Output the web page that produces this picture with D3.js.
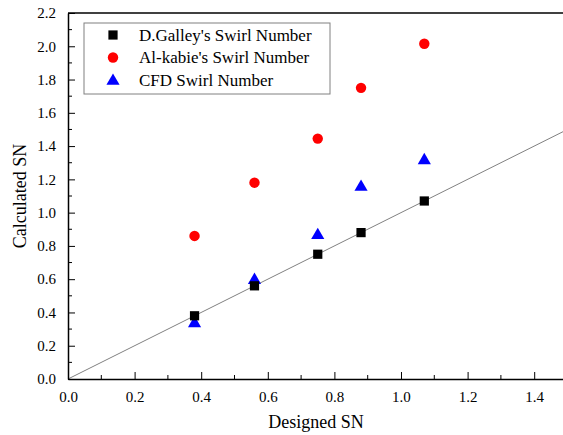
<!DOCTYPE html>
<html>
<head>
<meta charset="utf-8">
<script src="https://cdn.jsdelivr.net/npm/d3@7"></script>
<style>
  body { margin: 0; background: #fff; }
</style>
</head>
<body>
<div id="chart"></div>
<script>
// data
var designed = [0.38, 0.56, 0.75, 0.88, 1.07];
var galley = [0.38, 0.56, 0.75, 0.88, 1.07];
var alkabie = [0.86, 1.18, 1.445, 1.75, 2.015];
var cfd = [0.34, 0.60, 0.87, 1.16, 1.32];
var seriesNames = ["D.Galley's Swirl Number", "Al-kabie's Swirl Number", "CFD Swirl Number"];
var xTicks = [0.0, 0.2, 0.4, 0.6, 0.8, 1.0, 1.2, 1.4];
var yTicks = [0.0, 0.2, 0.4, 0.6, 0.8, 1.0, 1.2, 1.4, 1.6, 1.8, 2.0, 2.2];

var svgWidth = 563, svgHeight = 435;
var margin = { top: 13, right: 0, bottom: 56, left: 68 };
var chart_width = svgWidth - margin.left - margin.right;
var chart_height = svgHeight - margin.top - margin.bottom;

var svg = d3.select("#chart").append("svg")
    .attr("width", svgWidth)
    .attr("height", svgHeight);

var chartGroup = svg.append("g")
    .attr("transform", `translate(${margin.left}, ${margin.top})`);

var xScale = d3.scaleLinear().domain([0, 1.4865]).range([0, chart_width]);
var yScale = d3.scaleLinear().domain([0, 2.2]).range([chart_height, 0]);

// clip for marks
svg.append("clipPath").attr("id", "clip")
    .append("rect").attr("width", chart_width).attr("height", chart_height);

// y = x reference line
chartGroup.append("line")
    .attr("clip-path", "url(#clip)")
    .attr("x1", xScale(0)).attr("y1", yScale(0))
    .attr("x2", xScale(1.6)).attr("y2", yScale(1.6))
    .attr("stroke", "#808080").attr("stroke-width", 1);

// axes
var minorX = d3.range(0.1, 1.5, 0.2);
var minorY = d3.range(0.1, 2.2, 0.2);

var bottomAxis = d3.axisBottom(xScale).tickValues(xTicks).tickFormat(d3.format(".1f"))
    .tickSizeInner(-7).tickSizeOuter(0).tickPadding(12);
var xg = chartGroup.append("g")
    .attr("transform", `translate(0, ${chart_height})`)
    .call(bottomAxis);
xg.selectAll(".tick").filter(d => xScale(d) > chart_width - 1).select("line").remove();
xg.append("g").selectAll("line").data(minorX).enter().append("line")
    .attr("x1", d => xScale(d)).attr("x2", d => xScale(d))
    .attr("y1", 0).attr("y2", -4).attr("stroke", "#000");

var leftAxis = d3.axisLeft(yScale).tickValues(yTicks).tickFormat(d3.format(".1f"))
    .tickSizeInner(-7).tickSizeOuter(0).tickPadding(12);
var yg = chartGroup.append("g").call(leftAxis);
yg.append("g").selectAll("line").data(minorY).enter().append("line")
    .attr("y1", d => yScale(d)).attr("y2", d => yScale(d))
    .attr("x1", 0).attr("x2", 4).attr("stroke", "#000");

[xg, yg].forEach(function(g) {
    g.attr("font-family", null).attr("font-size", null);
    g.select(".domain").attr("stroke-width", 1.5);
    g.selectAll(".tick text").attr("fill", "#000").attr("font-size", 15);
});
// top frame
chartGroup.append("line")
    .attr("x1", 0).attr("x2", chart_width).attr("y1", 0).attr("y2", 0)
    .attr("stroke", "#000").attr("stroke-width", 1.5);

// markers
var sqSym = d3.symbol().type(d3.symbolSquare).size(85);
var ciSym = d3.symbol().type(d3.symbolCircle).size(85);
var trSym = d3.symbol().type(d3.symbolTriangle).size(75);

var marks = chartGroup.append("g");
marks.selectAll(".red").data(designed).enter().append("path")
    .attr("d", ciSym)
    .attr("transform", (d, i) => `translate(${xScale(d)}, ${yScale(alkabie[i])})`)
    .attr("fill", "#ff0000");
marks.selectAll(".blue").data(designed).enter().append("path")
    .attr("d", trSym)
    .attr("transform", (d, i) => `translate(${xScale(d)}, ${yScale(cfd[i]) + 1})`)
    .attr("fill", "#0000ff");
marks.selectAll(".black").data(designed).enter().append("path")
    .attr("d", sqSym)
    .attr("transform", (d, i) => `translate(${xScale(d)}, ${yScale(galley[i])})`)
    .attr("fill", "#000");

// legend
var legend = svg.append("g").attr("transform", "translate(84, 23)");
legend.append("rect")
    .attr("width", 246).attr("height", 71)
    .attr("fill", "#fff").attr("stroke", "#808080").attr("stroke-width", 1);
var syms = [[sqSym, "#000"], [ciSym, "#ff0000"], [trSym, "#0000ff"]];
seriesNames.forEach(function(name, i) {
    var y = 12 + i * 22.5;
    legend.append("path")
        .attr("d", syms[i][0])
        .attr("transform", `translate(29, ${y + (i == 2 ? 1 : 0)})`)
        .attr("fill", syms[i][1]);
    legend.append("text")
        .attr("x", 55).attr("y", y)
        .attr("dy", "0.35em")
        .attr("font-size", 17)
        .text(name);
});

// axis titles
svg.append("text")
    .attr("transform", `translate(26, ${margin.top + chart_height / 2}) rotate(-90)`)
    .attr("text-anchor", "middle")
    .attr("font-size", 18)
    .text("Calculated SN");

svg.append("text")
    .attr("x", 316).attr("y", 428)
    .attr("text-anchor", "middle")
    .attr("font-size", 18)
    .text("Designed SN");

// serif everywhere
svg.selectAll("text").attr("font-family", "Liberation Serif");
</script>
</body>
</html>
